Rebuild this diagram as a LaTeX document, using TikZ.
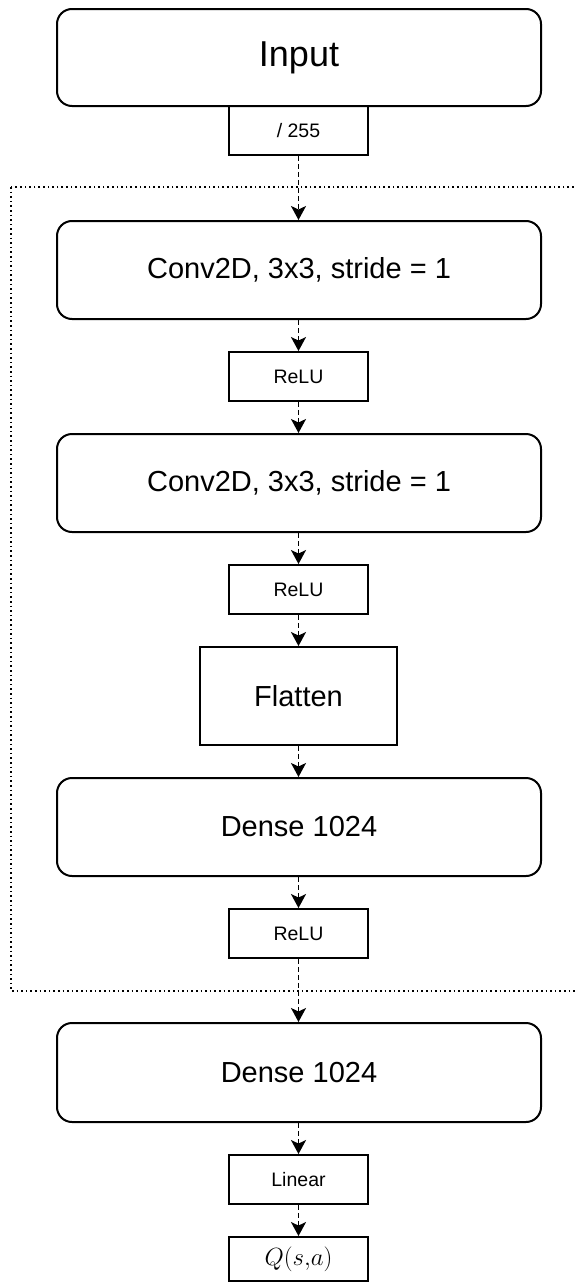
\documentclass[tikz,border=0pt]{standalone}
\usepackage{fontspec}
\setmainfont{Liberation Sans}
\usetikzlibrary{arrows.meta}

\tikzset{
  layer/.style={draw, line width=2pt, rounded corners=15pt,
    minimum width=484pt, minimum height=98pt, inner sep=0pt,
    font=\fontsize{29}{34}\selectfont},
  opbox/.style={draw, line width=1.9pt, minimum width=139pt,
    minimum height=49pt, inner sep=0pt,
    font=\fontsize{19.5}{23}\selectfont},
  flow/.style={line width=1.8pt, dash pattern=on 5pt off 3pt,
    -{Stealth[length=14pt, width=15pt, inset=3.5pt]}},
  group/.style={line width=1.6pt, dash pattern=on 1.6pt off 3pt}
}

\begin{document}
\begin{tikzpicture}[x=1pt, y=-1pt]
  \useasboundingbox (0,0) rectangle (575,1282);

  % shared trunk of the network
  \draw[group] (11,187) rectangle (590,991);

  \node[layer, font=\fontsize{36}{42}\selectfont, minimum height=97pt] (input) at (299,57.5) {Input};
  \node[opbox] (scale) at (298.5,130.5) {/ 255};

  \node[layer] (conv1) at (299,270) {Conv2D, 3x3, stride = 1};
  \node[opbox] (relu1) at (298.5,376.5) {ReLU};
  \node[layer] (conv2) at (299,483) {Conv2D, 3x3, stride = 1};
  \node[opbox] (relu2) at (298.5,589.5) {ReLU};
  \node[opbox, minimum width=197pt, minimum height=98pt,
        font=\fontsize{29}{34}\selectfont] (flat) at (298.5,696) {Flatten};
  \node[layer] (dense1) at (299,827) {Dense 1024};
  \node[opbox] (relu3) at (298.5,933.5) {ReLU};

  % head
  \node[layer, minimum height=99pt] (dense2) at (299,1072.5) {Dense 1024};
  \node[opbox] (linear) at (298.5,1179.5) {Linear};
  \node[opbox, minimum height=44pt, font=\fontsize{24}{28}\selectfont] (q) at (298.5,1259) {$Q(s{,}a)$};

  \draw[flow] (scale.south) -- (scale.south |- conv1.north);
  \draw[flow] (conv1.south -| relu1.north) -- (relu1.north);
  \draw[flow] (relu1.south) -- (relu1.south |- conv2.north);
  \draw[flow] (conv2.south -| relu2.north) -- (relu2.north);
  \draw[flow] (relu2.south) -- (flat.north);
  \draw[flow] (flat.south) -- (flat.south |- dense1.north);
  \draw[flow] (dense1.south -| relu3.north) -- (relu3.north);
  \draw[flow] (relu3.south) -- (relu3.south |- dense2.north);
  \draw[flow] (dense2.south -| linear.north) -- (linear.north);
  \draw[flow] (linear.south) -- (q.north);
\end{tikzpicture}
\end{document}
